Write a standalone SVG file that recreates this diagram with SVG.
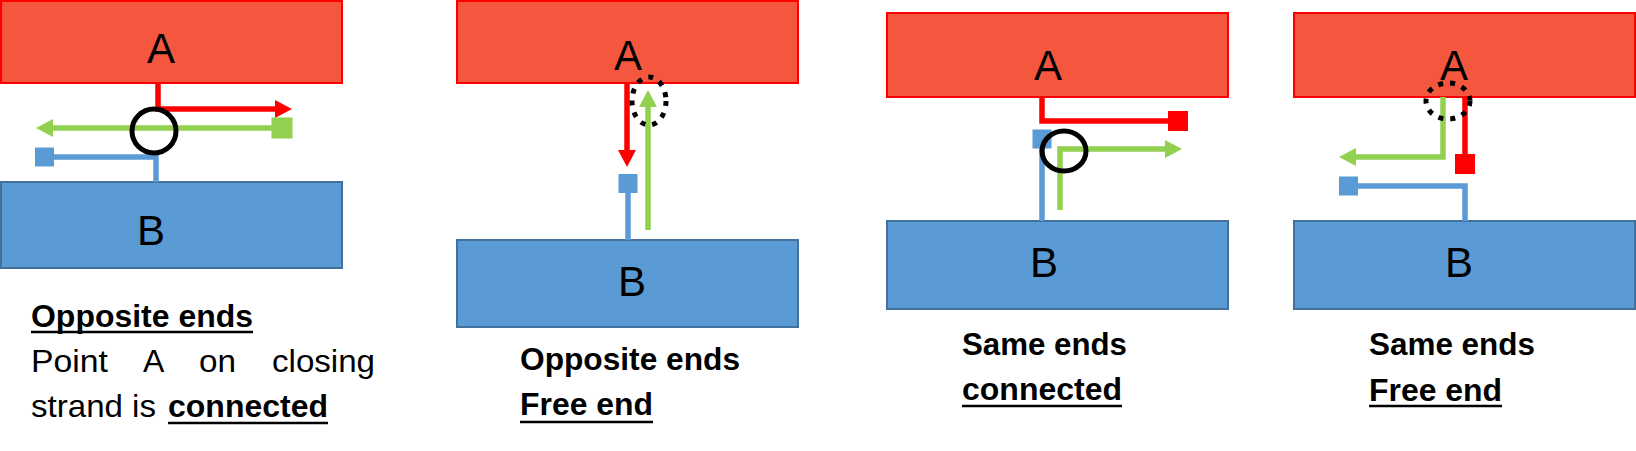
<svg xmlns="http://www.w3.org/2000/svg" width="1636" height="451" viewBox="0 0 1636 451">
<style>
.a{fill:#F4573D;stroke:#FF0000;stroke-width:2}
.b{fill:#5B9BD5;stroke:#41719C;stroke-width:2}
.lbl{font-family:"Liberation Sans",Arial,sans-serif;font-size:42px;fill:#000;text-anchor:middle}
.t{font-family:"Liberation Sans",Arial,sans-serif;font-size:32px;fill:#000}
.tb{font-weight:bold}
.ul{stroke:#000;stroke-width:2.5}
.ln{fill:none;stroke-width:5.5;stroke-linejoin:miter}
.r{stroke:#FF0000}
.g{stroke:#92D050}
.bl{stroke:#5B9BD5}
.ring{fill:none;stroke:#000;stroke-width:5}
.dots{fill:none;stroke:#000;stroke-width:5;stroke-dasharray:5 7}
</style>
<defs>
<marker id="arR" markerUnits="userSpaceOnUse" markerWidth="18" markerHeight="18" refX="0" refY="9" orient="auto" overflow="visible"><path d="M0,0 L17,9 L0,18 z" fill="#FF0000"/></marker>
<marker id="arG" markerUnits="userSpaceOnUse" markerWidth="18" markerHeight="18" refX="0" refY="9" orient="auto" overflow="visible"><path d="M0,0 L17,9 L0,18 z" fill="#92D050"/></marker>
<marker id="sqR" markerUnits="userSpaceOnUse" markerWidth="20" markerHeight="20" refX="10" refY="10" orient="0" overflow="visible"><rect width="20" height="20" fill="#FF0000"/></marker>
<marker id="sqG" markerUnits="userSpaceOnUse" markerWidth="21" markerHeight="21" refX="10.5" refY="10.5" orient="0" overflow="visible"><rect width="21" height="21" fill="#92D050"/></marker>
<marker id="sqB" markerUnits="userSpaceOnUse" markerWidth="19" markerHeight="19" refX="9.5" refY="9.5" orient="0" overflow="visible"><rect width="19" height="19" fill="#5B9BD5"/></marker>
</defs>

<g id="nodeA1"><rect class="a" x="1" y="1" width="341" height="82"/><text class="lbl" x="161" y="63">A</text></g>
<g id="nodeB1"><rect class="b" x="1" y="182" width="341" height="86"/><text class="lbl" x="151" y="245">B</text></g>
<g id="nodeA2"><rect class="a" x="457" y="1" width="341" height="82"/><text class="lbl" x="628" y="70">A</text></g>
<g id="nodeB2"><rect class="b" x="457" y="240" width="341" height="87"/><text class="lbl" x="632" y="296">B</text></g>
<g id="nodeA3"><rect class="a" x="887" y="13" width="341" height="84"/><text class="lbl" x="1048" y="80">A</text></g>
<g id="nodeB3"><rect class="b" x="887" y="221" width="341" height="88"/><text class="lbl" x="1044" y="277">B</text></g>
<g id="nodeA4"><rect class="a" x="1294" y="13" width="341" height="84"/><text class="lbl" x="1454" y="80">A</text></g>
<g id="nodeB4"><rect class="b" x="1294" y="221" width="341" height="88"/><text class="lbl" x="1459" y="277">B</text></g>

<g id="connectors">
<path class="ln r" d="M158,84 V109 H275" marker-end="url(#arR)"/>
<path class="ln g" d="M282,128 H53" marker-start="url(#sqG)" marker-end="url(#arG)"/>
<path class="ln bl" d="M156,182 V157 H44.5" marker-end="url(#sqB)"/>

<path class="ln r" d="M627,84 V150" marker-end="url(#arR)"/>
<path class="ln bl" d="M628,240 V183.5" marker-end="url(#sqB)"/>
<path class="ln g" d="M648,230 V107" marker-end="url(#arG)"/>

<path class="ln r" d="M1042,97 V121 H1178" marker-end="url(#sqR)"/>
<path class="ln bl" d="M1042,221 V139" marker-end="url(#sqB)"/>
<path class="ln g" d="M1060,210 V149 H1165" marker-end="url(#arG)"/>

<path class="ln g" d="M1443,97 V157 H1356" marker-end="url(#arG)"/>
<path class="ln r" d="M1465,97 V164" marker-end="url(#sqR)"/>
<path class="ln bl" d="M1465,221 V186 H1348.5" marker-end="url(#sqB)"/>
</g>

<g id="markers">
<circle class="ring" cx="154" cy="131" r="22"/>
<ellipse class="dots" cx="649" cy="101" rx="17" ry="24"/>
<ellipse class="ring" cx="1064" cy="151" rx="22" ry="20"/>
<ellipse class="dots" cx="1448" cy="101" rx="22" ry="18"/>
</g>

<g id="caption1">
<text class="t tb" x="31" y="327" textLength="222" lengthAdjust="spacingAndGlyphs">Opposite ends</text>
<line class="ul" x1="31" y1="332" x2="253" y2="332"/>
<text class="t" x="31" y="372" textLength="77" lengthAdjust="spacingAndGlyphs">Point</text>
<text class="t" x="143" y="372">A</text>
<text class="t" x="199" y="372" textLength="37" lengthAdjust="spacingAndGlyphs">on</text>
<text class="t" x="272" y="372" textLength="103" lengthAdjust="spacingAndGlyphs">closing</text>
<text class="t" x="31" y="417" textLength="125" lengthAdjust="spacingAndGlyphs">strand is</text>
<text class="t tb" x="168" y="417" textLength="160" lengthAdjust="spacingAndGlyphs">connected</text>
<line class="ul" x1="168" y1="423" x2="328" y2="423"/>
</g>
<g id="caption2">
<text class="t tb" x="520" y="370" textLength="220" lengthAdjust="spacingAndGlyphs">Opposite ends</text>
<text class="t tb" x="520" y="415" textLength="133" lengthAdjust="spacingAndGlyphs">Free end</text>
<line class="ul" x1="520" y1="422" x2="653" y2="422"/>
</g>
<g id="caption3">
<text class="t tb" x="962" y="355" textLength="165" lengthAdjust="spacingAndGlyphs">Same ends</text>
<text class="t tb" x="962" y="400" textLength="160" lengthAdjust="spacingAndGlyphs">connected</text>
<line class="ul" x1="962" y1="406" x2="1122" y2="406"/>
</g>
<g id="caption4">
<text class="t tb" x="1369" y="355" textLength="166" lengthAdjust="spacingAndGlyphs">Same ends</text>
<text class="t tb" x="1369" y="401" textLength="133" lengthAdjust="spacingAndGlyphs">Free end</text>
<line class="ul" x1="1369" y1="406" x2="1502" y2="406"/>
</g>
</svg>
